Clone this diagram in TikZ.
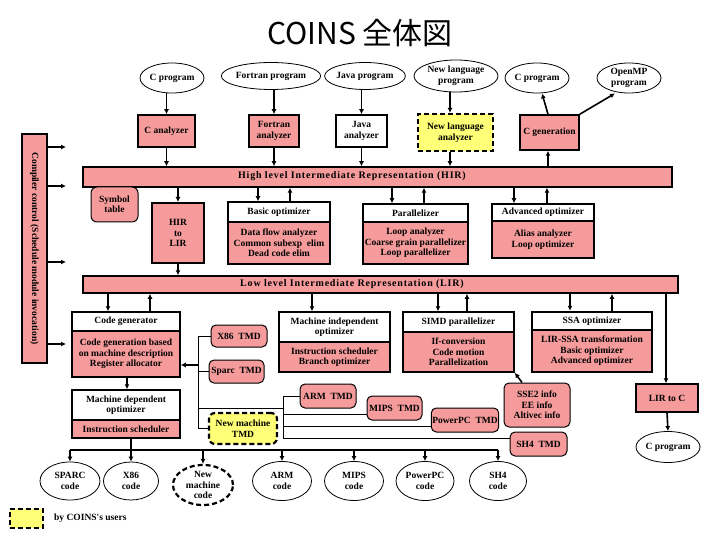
\documentclass[tikz,border=0pt]{standalone}
\usepackage{fontspec}
\setmainfont{Liberation Serif}
\newfontfamily\tfont{Liberation Serif}
\newfontfamily\cjk{Noto Sans CJK JP}
\newfontfamily\spaced[LetterSpace=8]{Liberation Serif}
\usetikzlibrary{shapes.geometric,arrows.meta}
\definecolor{pinkf}{RGB}{245,155,155}
\definecolor{yelf}{RGB}{255,255,120}
\begin{document}
\begin{tikzpicture}[x=1pt,y=-1pt,
  txt/.style={font=\tfont\fontsize{9.5}{10.5}\selectfont\bfseries, align=center, inner sep=1pt},
  prog/.style={txt, ellipse, draw, line width=0.8pt, inner sep=0pt},
  pbox/.style={txt, rectangle, draw, fill=pinkf, line width=1.5pt},
  wbox/.style={txt, rectangle, draw, fill=white, line width=1.5pt},
  ybox/.style={txt, rectangle, draw, fill=yelf, line width=2.2pt, dash pattern=on 5pt off 3pt},
  tmd/.style={txt, rectangle, rounded corners=5pt, draw, fill=pinkf, line width=1pt},
  arr/.style={-{Latex[length=5pt,width=5pt]}, line width=1.6pt},
  thinln/.style={line width=0.8pt},
  sz/.style 2 args={minimum width=#1, minimum height=#2}
]
\useasboundingbox (0,0) rectangle (720,540);

% title
\node (title) at (360,33) {\cjk\fontsize{30}{32}\selectfont COINS 全体図};

% programs
\node[prog, sz={64}{30}] (cprog) at (172,78) {C program};
\node[prog, sz={82}{27}] (fprog) at (271,76) {Fortran program};
\node[prog, sz={70}{27}] (jprog) at (365,76) {Java program};
\node[prog, sz={84}{32}] (nprog) at (456,76) {New language\\program};
\node[prog, sz={64}{30}] (cprog2) at (537,78) {C program};
\node[prog, sz={64}{30}] (omp) at (629,78) {OpenMP\\program};

% analyzers
\node[pbox, sz={57}{32}] (can) at (166.5,131) {C analyzer};
\node[pbox, sz={50}{32}] (fan) at (274,131) {Fortran\\analyzer};
\node[wbox, sz={51}{32}] (jan) at (361.5,131) {Java\\analyzer};
\node[ybox, sz={75}{37}] (nan) at (455.5,132.5) {New language\\analyzer};
\node[pbox, sz={59}{35}] (cgen) at (549.5,132.5) {C generation};

% HIR bar
\node[pbox, sz={589}{20}] (hir) at (377.5,177) {};
\node[txt] (hirt) at (352,176.5) {\spaced\fontsize{10}{11}\selectfont\bfseries High level Intermediate Representation (HIR)};

% compiler control
\node[pbox, rotate=-90, sz={229}{25}] (cc) at (34.5,248.5) {Compiler control (Schedule module invocation)};
\coordinate (cc1) at (66,147);
\coordinate (cc2) at (66,186);
\coordinate (cc3) at (66,262);
\coordinate (cc4) at (66,344);
\foreach \c in {cc1,cc2,cc3,cc4} \draw[arr] (cc.north |- \c) -- (\c);

% symbol table, HIR to LIR
\node[pbox, rounded corners=6pt, line width=1pt, sz={47}{35}] (sym) at (114.5,204.5) {Symbol\\table};
\node[pbox, line width=2pt, sz={52}{60}] (h2l) at (178,233) {HIR\\to\\LIR};

% optimizers under HIR
\node[wbox, sz={102}{20}] (boh) at (279,212) {Basic optimizer};
\node[pbox, sz={102}{42}] (bob) at (279,243) {Data flow analyzer\\Common subexp\ \ elim\\Dead code elim};
\node[wbox, sz={105}{18}] (parh) at (415.5,213) {Parallelizer};
\node[pbox, sz={105}{42}] (parb) at (415.5,243) {Loop analyzer\\Coarse grain parallelizer\\Loop parallelizer};
\node[wbox, sz={102}{17}] (advh) at (543,212.5) {Advanced optimizer};
\node[pbox, sz={102}{37}] (advb) at (543,239.5) {Alias analyzer\\Loop optimizer};

% LIR bar
\node[pbox, sz={595}{17}] (lir) at (380.5,284.5) {};
\node[txt] (lirt) at (352,284.5) {\spaced\fontsize{10}{11}\selectfont\bfseries Low level Intermediate Representation (LIR)};

% boxes under LIR
\node[wbox, sz={108}{19}] (cgh) at (126,321.5) {Code generator};
\node[pbox, sz={108}{46}] (cgb) at (126,354) {Code generation based\\on machine description\\Register allocator};
\node[wbox, sz={111}{30}] (mioh) at (334.5,327) {Machine independent\\optimizer};
\node[pbox, sz={111}{30}] (miob) at (334.5,357) {Instruction scheduler\\Branch optimizer};
\node[wbox, sz={111}{20}] (simdh) at (458.5,322) {SIMD parallelizer};
\node[pbox, sz={111}{40}] (simdb) at (458.5,352) {If-conversion\\Code motion\\Parallelization};
\node[pbox, line width=2.4pt, sz={120}{42}] (ssab) at (592,351) {LIR-SSA transformation\\Basic optimizer\\Advanced optimizer};
\node[wbox, line width=2.4pt, sz={120}{18}] (ssah) at (592,321) {SSA optimizer};
\node[wbox, sz={108}{30}] (mdoh) at (126,405) {Machine dependent\\optimizer};
\node[pbox, sz={108}{18}] (mdob) at (126,429) {Instruction scheduler};
\node[pbox, sz={62}{28}] (lirc) at (667,398) {LIR to C};
\node[prog, sz={64}{31}] (cprog3) at (668,447) {C program};

% TMDs
\node[tmd, sz={56}{22}] (x86tmd) at (239,336) {X86\ \ TMD};
\node[tmd, sz={55}{23}] (sparctmd) at (236.5,371.5) {Sparc\ \ TMD};
\node[ybox, rounded corners=6pt, sz={68}{31}] (nmtmd) at (243,428.5) {New machine\\TMD};
\node[tmd, sz={56}{24}] (armtmd) at (328,396) {ARM\ \ TMD};
\node[tmd, sz={55}{24}] (mipstmd) at (394.5,408) {MIPS\ \ TMD};
\node[tmd, sz={66}{24}] (ppctmd) at (465,420) {PowerPC\ \ TMD};
\node[tmd, sz={66}{44}] (sse) at (537,405) {SSE2 info\\EE info\\Altivec info};
\node[tmd, sz={57}{24}] (sh4tmd) at (538.5,444) {SH4\ \ TMD};

% code ellipses
\node[prog, sz={60}{38}] (sparccode) at (70,481) {SPARC\\code};
\node[prog, sz={55}{38}] (x86code) at (131,481) {X86\\code};
\node[prog, line width=2.2pt, dash pattern=on 5pt off 3pt, sz={60}{40}] (nmcode) at (203,485) {New\\machine\\code};
\node[prog, sz={59}{39}] (armcode) at (282,481) {ARM\\code};
\node[prog, sz={59}{39}] (mipscode) at (354,481) {MIPS\\code};
\node[prog, sz={58}{39}] (ppccode) at (425,481) {PowerPC\\code};
\node[prog, sz={57}{39}] (sh4code) at (498,481) {SH4\\code};

% legend
\node[ybox, sz={33}{19}] (leg) at (26.5,518.5) {};
\node[txt, anchor=west] (legt) at (53,518) {by COINS's users};

% ---- connectors: front end
\draw[arr] (cprog.south -| can.north) -- (can.north);
\draw[arr] (fprog.south -| fan.north) -- (fan.north);
\draw[arr] (jprog.south -| jan.north) -- (jan.north);
\draw[arr] (nprog.south -| 450,0) -- (nan.north -| 450,0);
\draw[arr] (can.south) -- (hir.north -| can.south);
\draw[arr] (fan.south) -- (hir.north -| fan.south);
\draw[arr] (jan.south) -- (hir.north -| jan.south);
\draw[arr] (nan.south -| 450,0) -- (hir.north -| 450,0);
\draw[arr] (hir.north -| 548,0) -- (cgen.south -| 548,0);
\draw[arr] (cgen.north -| 548,0) -- (cprog2.south -| 542,0);
\draw[arr] (cgen.north east) -- (omp.south -| 615,0);

% HIR <-> optimizers
\draw[arr] (hir.south -| h2l.north) -- (h2l.north);
\draw[arr] (h2l.south) -- (lir.north -| h2l.south);
\draw[arr] (hir.south -| 258,0) -- (boh.north -| 258,0);
\draw[arr] (boh.north -| 290,0) -- (hir.south -| 290,0);
\draw[arr] (hir.south -| 392,0) -- (parh.north -| 392,0);
\draw[arr] (parh.north -| 424,0) -- (hir.south -| 424,0);
\draw[arr] (hir.south -| 514,0) -- (advh.north -| 514,0);
\draw[arr] (advh.north -| 547,0) -- (hir.south -| 547,0);

% LIR <-> boxes
\draw[arr] (lir.south -| 108,0) -- (cgh.north -| 108,0);
\draw[arr] (cgh.north -| 150,0) -- (lir.south -| 150,0);
\draw[arr] (lir.south -| 312,0) -- (mioh.north -| 312,0);
\draw[arr] (lir.south -| 438,0) -- (simdh.north -| 438,0);
\draw[arr] (simdh.north -| 467,0) -- (lir.south -| 467,0);
\draw[arr] (lir.south -| 570,0) -- (ssah.north -| 570,0);
\draw[arr] (ssah.north -| 612,0) -- (lir.south -| 612,0);
\draw[arr] (lir.south -| 666,0) -- (lirc.north -| 666,0);
\draw[arr] (lirc.south) -- (cprog3.north);
\draw[arr] (cgb.south -| 127,0) -- (mdoh.north -| 127,0);
\draw[arr] (sse.north -| 522,0) -- (simdb.south east);

% TMD brackets
\coordinate (lt) at (198,336);
\coordinate (lb) at (198,428.5);
\draw[thinln] (lt) -- (lb);
\draw[thinln] (lt) -- (x86tmd.west);
\draw[thinln] (sparctmd.west -| lt) -- (sparctmd.west);
\draw[thinln] (nmtmd.west -| lt) -- (nmtmd.west);
\draw[arr] (198,365) -- (cgb.east |- 198,365);
\coordinate (rt) at (283,396);
\coordinate (rb) at (283,438);
\draw[thinln] (rt) -- (rb);
\draw[thinln] (198,408) -- (283,408);
\draw[thinln] (rt) -- (armtmd.west);
\draw[thinln] (283,414) -- (mipstmd.west |- 283,414);
\draw[thinln] (283,426) -- (ppctmd.west |- 283,426);
\draw[thinln] (rb) -- (sh4tmd.west |- rb);

% bottom bus
\coordinate (bl) at (70,450);
\coordinate (br) at (498,450);
\draw[line width=1.2pt] (bl) -- (br);
\draw[arr] (mdob.south -| x86code.north) -- (x86code.north);
\foreach \n in {sparccode,nmcode,armcode,mipscode,ppccode,sh4code}
  \draw[arr] (bl -| \n.north) -- (\n.north);
\end{tikzpicture}
\end{document}
